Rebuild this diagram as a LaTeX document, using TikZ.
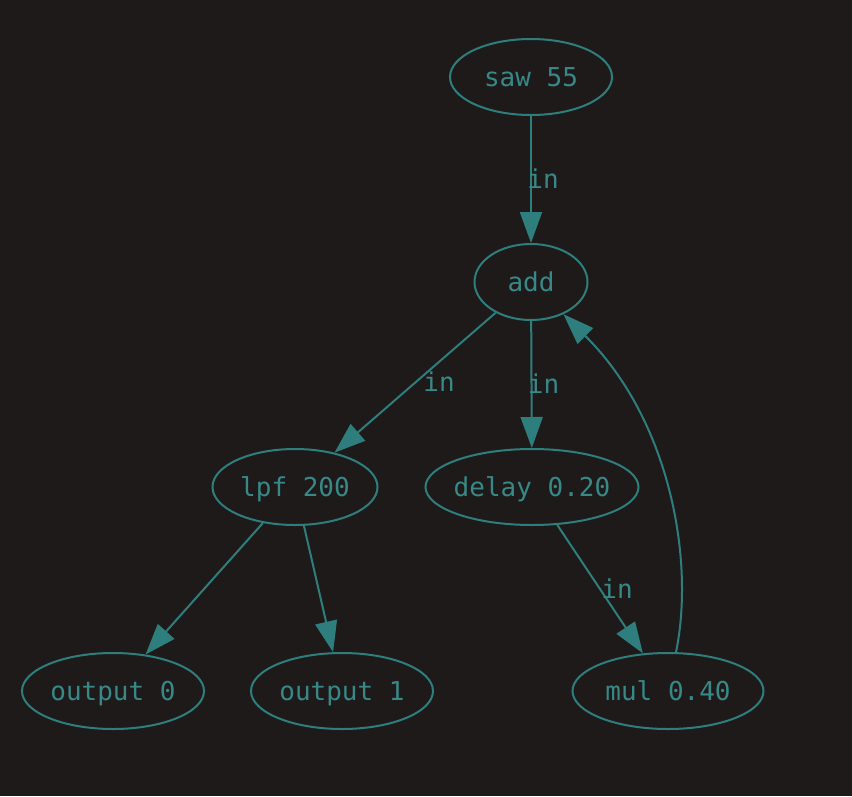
\documentclass[tikz,border=0pt]{standalone}
\usepackage{fontspec}
\setmonofont{DejaVu Sans Mono}
\usetikzlibrary{shapes.geometric,arrows.meta}
\definecolor{bgc}{RGB}{30,26,25}
\definecolor{edgec}{RGB}{46,126,126}
\definecolor{txtc}{RGB}{56,136,136}
\tikzset{
  gnode/.style={draw=edgec, line width=2pt, ellipse, inner xsep=-40pt, inner ysep=-12pt,
    minimum height=76pt, text=txtc, font=\ttfamily\fontsize{26}{26}\selectfont,
    text height=20pt, text depth=2pt},
  arr/.style={draw=edgec, line width=2pt, -{Triangle[length=31pt,width=22pt]}},
  lab/.style={text=txtc, font=\ttfamily\fontsize{26}{26}\selectfont, inner sep=0pt,
    text height=20pt, text depth=2pt}
}
\begin{document}
\begin{tikzpicture}[x=1pt,y=-1pt]
\fill[bgc] (0,0) rectangle (852,796);
\useasboundingbox (0,0) rectangle (852,796);
\node[gnode, minimum width=162pt] (saw) at (531,77) {saw 55};
\node[gnode, minimum width=113pt] (add) at (531,282) {add};
\node[gnode, minimum width=165pt] (lpf) at (295,487) {lpf 200};
\node[gnode, minimum width=213pt] (delay) at (532,487) {delay 0.20};
\node[gnode, minimum width=182pt] (out0) at (113,691) {output 0};
\node[gnode, minimum width=182pt] (out1) at (342,691) {output 1};
\node[gnode, minimum width=191pt] (mul) at (668,691) {mul 0.40};

\draw[arr] (saw) -- node[lab, xshift=12pt] {in} (add);
\draw[arr] (add) -- node[lab, xshift=24pt] {in} (lpf);
\draw[arr] (add) -- node[lab, xshift=12pt] {in} (delay);
\draw[arr] (lpf) -- (out0);
\draw[arr] (lpf) -- (out1);
\draw[arr] (delay) -- node[lab, xshift=17pt] {in} (mul);
\draw[arr] (mul) .. controls (695,560) and (670,420) .. (add);
\end{tikzpicture}
\end{document}
